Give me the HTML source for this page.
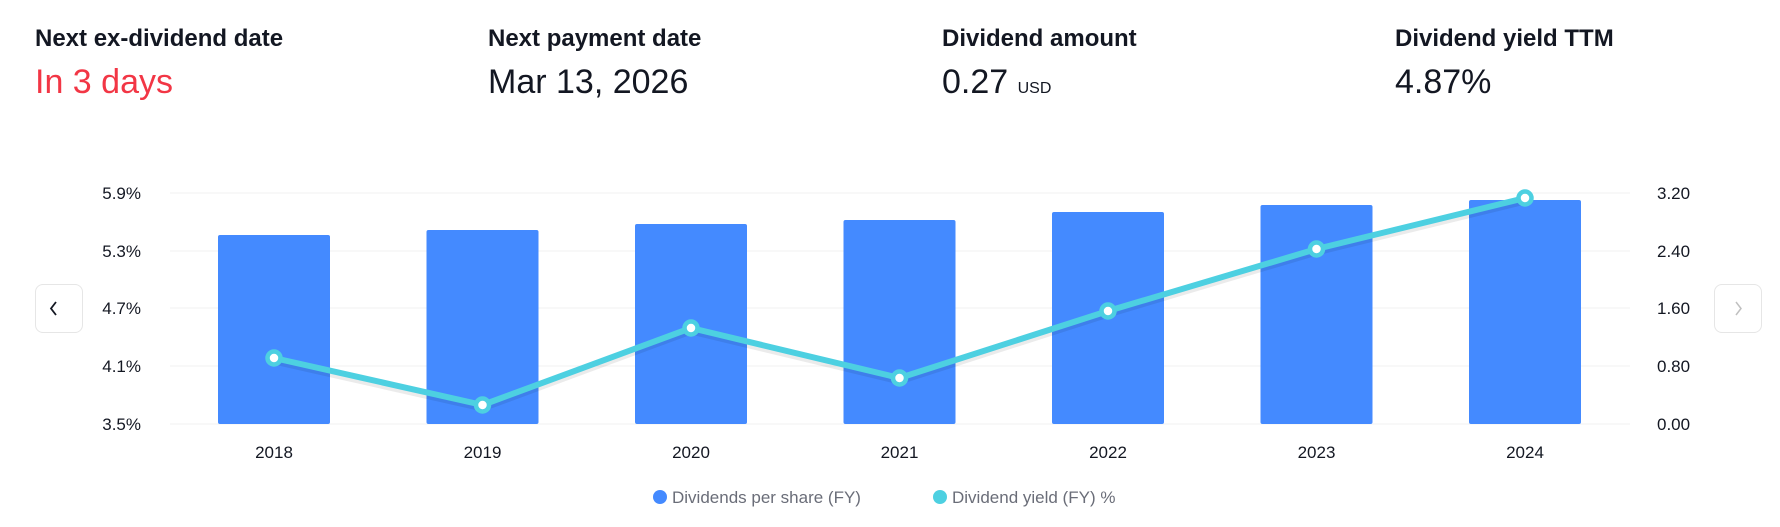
<!DOCTYPE html>
<html><head><meta charset="utf-8"><style>
body{margin:0;width:1780px;height:527px;background:#fff;overflow:hidden;font-family:"Liberation Sans",sans-serif;color:#131722;position:relative}
.h{position:absolute;top:25px;font-size:24px;font-weight:bold;white-space:nowrap}
.v{position:absolute;top:63px;font-size:34px;white-space:nowrap}
.v small{font-size:16px}
.nav{position:absolute;top:284px;width:48px;height:49px;border:1px solid #e6e6e6;border-radius:8px;box-sizing:border-box}
</style></head><body>
<div class="h" style="left:35px">Next ex-dividend date</div>
<div class="h" style="left:488px">Next payment date</div>
<div class="h" style="left:942px">Dividend amount</div>
<div class="h" style="left:1395px">Dividend yield TTM</div>
<div class="v" style="left:35px;color:#f23645">In 3 days</div>
<div class="v" style="left:488px">Mar 13, 2026</div>
<div class="v" style="left:942px">0.27 <small>USD</small></div>
<div class="v" style="left:1395px">4.87%</div>
<div class="nav" style="left:35px"></div>
<div class="nav" style="left:1714px"></div>
<svg width="1780" height="527" style="position:absolute;left:0;top:0" font-family="Liberation Sans, sans-serif">
<path d="M56 302 L51 308.5 L56 315" stroke="#131722" stroke-width="1.8" fill="none"/>
<path d="M1736 302 L1741 308.5 L1736 315" stroke="#c0c0c0" stroke-width="1.5" fill="none"/>
<g stroke="#f0f0f0" stroke-width="1">
<line x1="170" x2="1630" y1="193" y2="193"/><line x1="170" x2="1630" y1="251" y2="251"/>
<line x1="170" x2="1630" y1="308" y2="308"/><line x1="170" x2="1630" y1="366" y2="366"/>
<line x1="170" x2="1630" y1="424" y2="424"/></g>
<g font-size="17" fill="#131722" text-anchor="end">
<text x="141" y="199">5.9%</text><text x="141" y="257">5.3%</text><text x="141" y="314">4.7%</text><text x="141" y="372">4.1%</text><text x="141" y="430">3.5%</text></g>
<g font-size="17" fill="#131722">
<text x="1657" y="199">3.20</text><text x="1657" y="257">2.40</text><text x="1657" y="314">1.60</text><text x="1657" y="372">0.80</text><text x="1657" y="430">0.00</text></g>
<g fill="#448aff">
<rect x="218" y="235" width="112" height="189" rx="2"/>
<rect x="426.5" y="230" width="112" height="194" rx="2"/>
<rect x="635" y="224" width="112" height="200" rx="2"/>
<rect x="843.5" y="220" width="112" height="204" rx="2"/>
<rect x="1052" y="212" width="112" height="212" rx="2"/>
<rect x="1260.5" y="205" width="112" height="219" rx="2"/>
<rect x="1469" y="200" width="112" height="224" rx="2"/></g>
<g font-size="17" fill="#131722" text-anchor="middle">
<text x="274" y="458">2018</text><text x="482.5" y="458">2019</text><text x="691" y="458">2020</text><text x="899.5" y="458">2021</text><text x="1108" y="458">2022</text><text x="1316.5" y="458">2023</text><text x="1525" y="458">2024</text></g>
<polyline points="274,361 482.5,408 691,331 899.5,381 1108,314 1316.5,252 1525,201" fill="none" stroke="#000" stroke-opacity="0.08" stroke-width="7"/>
<polyline points="274,358 482.5,405 691,328 899.5,378 1108,311 1316.5,249 1525,198" fill="none" stroke="#4dd0e1" stroke-width="6" stroke-linejoin="round"/>
<g fill="#fff" stroke="#4dd0e1" stroke-width="4.5">
<circle cx="274" cy="358" r="6.5"/><circle cx="482.5" cy="405" r="6.5"/><circle cx="691" cy="328" r="6.5"/><circle cx="899.5" cy="378" r="6.5"/><circle cx="1108" cy="311" r="6.5"/><circle cx="1316.5" cy="249" r="6.5"/><circle cx="1525" cy="198" r="6.5"/></g>
<circle cx="660" cy="497" r="7" fill="#448aff"/>
<text x="672" y="503" font-size="17" fill="#6a6d78">Dividends per share (FY)</text>
<circle cx="940" cy="497" r="7" fill="#4dd0e1"/>
<text x="952" y="503" font-size="17" fill="#6a6d78">Dividend yield (FY) %</text>
</svg>
</body></html>
